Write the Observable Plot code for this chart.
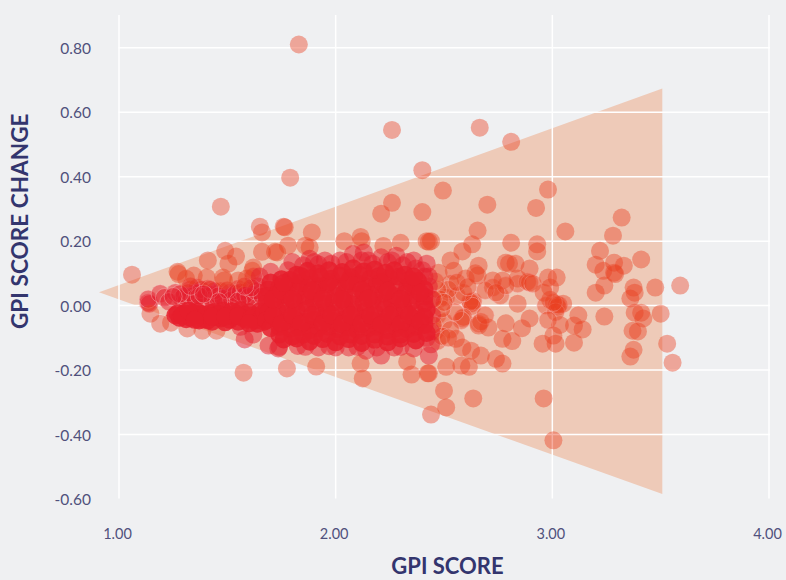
<!DOCTYPE html>
<html>
<head>
<meta charset="utf-8">
<script src="https://cdn.jsdelivr.net/npm/d3@7"></script>
<script src="https://cdn.jsdelivr.net/npm/@observablehq/plot@0.6"></script>
<style>
html,body{margin:0;padding:0;background:#EFF0F2;}
svg{display:block;background:#EFF0F2;}
</style>
</head>
<body>
<div id="chart"></div>
<script>
const wedgeScore = [0.91, 3.51];
const wedgeUpper = [0.04, 0.672];
const wedgeLower = [0.04, -0.586];
const xTicks = [1, 2, 3, 4];
const yTicks = [-0.6, -0.4, -0.2, 0, 0.2, 0.4, 0.6, 0.8];
const xTitle = "GPI SCORE";
const yTitle = "GPI SCORE CHANGE";

// [GPI score, GPI score change]
const scattered = [
[1.06,.096],[1.83,.81],[2.26,.545],[2.665,.552],[2.81,.508],[2.40,.42],[1.79,.397],[2.495,.357],[2.98,.36],[1.47,.307],
[2.70,.313],[2.26,.319],[2.21,.285],[2.40,.29],[2.925,.303],[3.32,.273],[3.06,.23],[3.28,.217],[2.655,.233],[1.65,.245],
[1.66,.227],[1.76,.245],[1.765,.243],[1.89,.227],[2.81,.195],[2.93,.19],[2.93,.168],[2.63,.19],[2.585,.168],[2.42,.2],
[2.43,.198],[2.44,.2],[2.30,.195],[2.04,.2],[2.115,.213],[2.12,.2],[2.22,.185],[1.72,.167],[1.78,.186],[1.86,.186],
[1.88,.18],[1.49,.17],[1.54,.152],[1.505,.13],[1.41,.14],[1.66,.167],[3.22,.17],[3.2,.127],[3.235,.108],[3.285,.133],
[3.33,.124],[3.285,.102],[3.29,.098],[3.41,.143],[3.24,.062],[3.2,.04],[3.375,.056],[3.36,.022],[3.475,.056],[3.59,.062],
[3.38,.04],[3.38,-.022],[3.41,-.022],[3.42,-.04],[3.50,-.025],[3.37,-.078],[3.395,-.08],[3.375,-.137],[3.36,-.158],[3.53,-.118],
[3.555,-.177],[3.24,-.034],[2.53,.14],[2.545,.108],[2.475,.102],[2.66,.124],[2.645,.1],[2.785,.133],[2.80,.13],[2.83,.13],
[2.895,.115],[2.60,.084],[2.655,.093],[2.84,.084],[2.77,.078],[2.725,.078],[3.12,-.03],[3.10,-.062],[3.14,-.074],[3.10,-.115],
[3.05,.006],[2.98,.087],[3.02,.087],[2.99,.056],[2.96,.04],[2.99,.018],[3.015,-.118],[2.955,-.118],[3.005,-.093],[3.035,-.06],
[2.895,-.04],[2.86,-.07],[2.815,-.11],[2.77,-.103],[2.785,-.055],[2.84,.006],[2.51,-.19],[2.425,-.21],[2.50,-.264],[2.51,-.316],
[2.44,-.338],[2.635,-.288],[2.96,-.288],[3.005,-.418],[1.575,-.208],[1.775,-.195],[1.91,-.189],[2.125,-.226],[2.115,-.18],[2.35,-.214],
[2.43,-.21],[2.33,-.174],[2.67,-.155],[2.74,-.165],[2.77,-.18],[2.58,-.186],[2.615,-.19],[2.705,-.068],[2.66,-.062],
[2.555,-.103],[2.585,-.13],[2.625,-.14],[1.27,.105],[1.275,.098],[1.345,.093],[1.405,.087],[1.31,.083],[1.48,.087],[1.485,.078],
[1.55,.078],[1.59,.084],[1.62,.118],[1.615,.108],[1.73,.165],[1.19,-.056],[1.145,-.025],[1.24,-.053],[1.315,-.071],[1.385,-.078],[1.45,-.078]
];

const ringedBand = [
[1.135,.009],[1.14,.006],[1.135,.02],[1.19,.037],[1.21,.025],[1.26,.04],[1.33,.05],[1.36,.056],[1.37,.04],[1.42,.034],
[1.45,.028],[1.5,.025],[1.55,.052],[1.59,.046],[1.62,.031],[1.29,.022],[1.34,.03],[1.39,.02],[1.47,.045],[1.53,.03],
[1.57,.022],[1.64,.06],[1.62,.09],[1.65,.04],[1.31,.016],[1.41,.052],[1.49,.016],[1.6,.012],[1.23,.012],[1.35,.012],
[1.3,.03],[1.32,.04],[1.35,.022],[1.38,.05],[1.4,.03],[1.43,.018],[1.44,.046],[1.46,.03],[1.48,.022],[1.51,.04],
[1.52,.018],[1.54,.038],[1.56,.042],[1.58,.032],[1.6,.028],[1.63,.046],[1.66,.03],[1.28,.036],[1.25,.028],[1.37,.03],
[1.42,.05],[1.5,.048],[1.55,.014],[1.61,.055],[1.33,.06],[1.58,.06],[1.46,.012],[1.39,.036]
];

const ringedRight = [
[2.63,.01],[2.625,.006],[2.635,.014],[2.62,.012],[2.63,-.002],[2.585,-.04],[2.59,-.036],[2.58,-.046],[2.66,-.056],[2.67,-.05],
[2.53,.068],[2.51,.025],[2.56,.031],[2.59,.04],[2.725,.056],[2.76,.031],[2.84,.068],[2.885,.074],[2.895,.071],[2.91,.068],
[2.785,.062],[2.69,.047],[2.74,.04],[2.52,.05],[2.56,.072],[2.61,.058],[2.47,-.03],[2.46,-.08],[2.48,.02],[2.5,-.05],
[2.53,-.075],[2.55,-.02],[2.69,-.03],[2.97,0],[3.02,.004],[3.025,-.004],[3.03,.002],[3.015,-.02],[2.98,-.045],[3.005,.01],
[2.47,.05],[2.46,.075],[2.49,-.01],[2.47,-.11],[2.49,-.095],[2.52,-.1],[2.5,.01],[2.45,.02],[2.45,-.06]
];

const coreLeft = [
[1.3,-.024],[1.33,-.038],[1.36,-.018],[1.39,-.042],[1.42,-.022],[1.45,-.036],[1.48,-.016],[1.51,-.044],[1.54,-.024],[1.57,-.038],[1.6,-.02],[1.63,-.046],
[1.31,-.042],[1.35,-.03],[1.38,-.026],[1.41,-.046],[1.44,-.02],[1.47,-.04],[1.5,-.028],[1.53,-.034],[1.56,-.014],[1.59,-.044],[1.62,-.03],[1.65,-.018],
[1.26,-.03],[1.28,-.038],[1.34,-.022],[1.37,-.046],[1.4,-.03],[1.46,-.026],[1.52,-.018],[1.58,-.03],[1.64,-.034],[1.67,-.05],[1.55,-.05],[1.49,-.052],[1.43,-.05],
[1.27,-.024],[1.29,-.03],[1.32,-.016],[1.35,-.044],[1.43,-.034],[1.49,-.034],[1.55,-.032],[1.61,-.04],[1.66,-.036],[1.64,-.056],[1.6,-.055],[1.67,-.02]
];

const coreMain = [
[1.70,.072],[1.75,.082],[1.79,.08],[1.84,.092],[1.88,.085],[1.93,.09],[1.98,.083],[2.02,.093],[2.07,.088],[2.11,.096],[2.16,.084],[2.2,.092],[2.25,.086],[2.29,.09],[2.34,.082],[2.38,.076],
[1.69,.05],[1.74,.058],[1.78,.062],[1.83,.055],[1.87,.064],[1.92,.06],[1.96,.066],[2.01,.057],[2.05,.065],[2.1,.069],[2.14,.06],[2.19,.066],[2.23,.058],[2.28,.063],[2.33,.056],[2.37,.06],[2.41,.05],
[1.68,.03],[1.73,.036],[1.77,.032],[1.82,.038],[1.86,.03],[1.91,.036],[1.95,.04],[2.0,.032],[2.04,.038],[2.09,.034],[2.13,.04],[2.18,.032],[2.22,.037],[2.27,.03],[2.32,.036],[2.36,.032],[2.41,.028],
[1.68,.006],[1.72,.012],[1.77,.004],[1.81,.01],[1.86,.008],[1.9,.014],[1.95,.006],[1.99,.01],[2.04,.012],[2.08,.004],[2.13,.01],[2.17,.014],[2.22,.006],[2.26,.01],[2.31,.004],[2.35,.012],[2.41,.006],
[1.69,-.02],[1.73,-.014],[1.78,-.022],[1.82,-.016],[1.87,-.012],[1.91,-.02],[1.96,-.016],[2.0,-.024],[2.05,-.014],[2.09,-.02],[2.14,-.016],[2.18,-.022],[2.23,-.012],[2.27,-.02],[2.32,-.016],[2.37,-.022],[2.42,-.014],
[1.68,-.046],[1.72,-.04],[1.77,-.048],[1.81,-.042],[1.86,-.05],[1.9,-.044],[1.95,-.038],[1.99,-.048],[2.04,-.042],[2.08,-.05],[2.13,-.04],[2.17,-.046],[2.22,-.05],[2.26,-.042],[2.31,-.048],[2.36,-.04],[2.41,-.036],
[1.7,-.07],[1.74,-.066],[1.79,-.072],[1.83,-.068],[1.88,-.076],[1.92,-.07],[1.97,-.066],[2.01,-.074],[2.06,-.068],[2.1,-.076],[2.15,-.07],[2.19,-.066],[2.24,-.076],[2.28,-.07],[2.33,-.074],[2.37,-.066],[2.41,-.06],
[1.74,-.09],[1.8,-.096],[1.85,-.09],[1.9,-.094],[1.96,-.088],[2.02,-.096],[2.07,-.09],[2.12,-.094],[2.18,-.09],[2.24,-.096],[2.3,-.09],[2.36,-.088],
[1.71,-.03],[1.75,-.056],[1.8,-.03],[1.84,-.056],[1.89,-.03],[1.94,-.056],[1.98,-.03],[2.03,-.058],[2.07,-.03],[2.12,-.056],[2.16,-.03],[2.21,-.06],[2.25,-.03],[2.3,-.058],[2.34,-.03],[2.39,-.05],
[1.71,.02],[1.75,.046],[1.8,.02],[1.84,.072],[1.89,.046],[1.94,.02],[1.97,.074],[2.03,.02],[2.06,.076],[2.12,.048],[2.15,.022],[2.21,.074],[2.24,.046],[2.3,.02],[2.35,.07],[2.39,.04],
[1.76,.07],[1.82,.096],[1.87,.108],[1.92,.1],[1.97,.11],[2.03,.104],[2.08,.116],[2.13,.106],[2.18,.112],[2.23,.102],[2.27,.11],[2.32,.096],[2.36,.09],
[1.76,-.105],[1.82,-.102],[1.88,-.112],[1.94,-.104],[2.0,-.114],[2.06,-.104],[2.12,-.116],[2.18,-.106],[2.24,-.114],[2.3,-.102],[2.37,-.108],[2.42,-.085]
];

const coreEdge = [
[1.58,-.105],[1.56,-.066],[1.62,-.09],[1.69,-.124],[1.735,-.133],[1.74,-.128],[1.825,-.125],[1.92,-.13],[2.0,-.13],[2.06,-.13],
[2.14,-.14],[2.21,-.155],[2.27,-.13],[2.36,-.133],[2.43,-.155],[2.44,-.12],[2.42,-.1],[1.86,-.128],[1.97,-.126],[2.1,-.128],
[2.19,-.13],[2.3,-.128],[1.65,.09],[1.7,.105],[1.78,.11],[1.85,.125],[1.92,.128],[1.98,.13],[2.05,.135],[2.12,.14],
[2.17,.13],[2.24,.135],[2.31,.125],[2.37,.115],[2.41,.09],[1.95,.14],[2.08,.16],[2.13,.165],[2.21,.15],[2.36,.14],
[1.8,.135],[1.88,.145],[2.28,.155],[2.33,.135],[2.42,.13],[1.9,.135],[2.02,.14],[2.15,.14],[2.26,.14],[2.4,.11],
[2.43,.06],[2.44,.02],[2.445,-.03],[2.44,-.08],[2.43,.09]
];

const dotOrange = "#E93E1E";
const coreRed = "#E61E2D";
const navy = "#33356E";
const tickInk = "#50507C";
const fmt = d => d3.format(".2f")(d).replace("\u2212", "-");
const tickFont = {fill: tickInk};
const titleFont = {fontSize: 22, fontWeight: 700, fill: navy, fontFamily: "Lato"};

const chart = Plot.plot({
  width: 786,
  height: 580,
  marginLeft: 118.5,
  marginRight: 17.5,
  marginTop: 15,
  marginBottom: 81.5,
  style: {background: "#EFF0F2", fontFamily: "Lato", overflow: "visible"},
  x: {domain: [1, 4]},
  y: {domain: [-0.6, 0.9]},
  marks: [
    Plot.areaY(wedgeScore, {x: d => d, y1: (d, i) => wedgeLower[i], y2: (d, i) => wedgeUpper[i], fill: "#EECAB8"}),
    Plot.ruleY(yTicks.filter(d => d > -0.6), {x1: 1, x2: 4.007, stroke: "#fff", strokeWidth: 1.5}),
    Plot.ruleX(xTicks, {stroke: "#fff", strokeWidth: 1.5}),
    Plot.dot(ringedBand, {x: d => d[0], y: d => d[1], r: 9, fill: coreRed, fillOpacity: 0.5, stroke: "#F7C2C2", strokeOpacity: 0.5, strokeWidth: 0.8}),
    Plot.dot(ringedRight, {x: d => d[0], y: d => d[1], r: 9, fill: dotOrange, fillOpacity: 0.42, stroke: "#F7C2C2", strokeOpacity: 0.5, strokeWidth: 0.8}),
    Plot.dot(scattered, {x: d => d[0], y: d => d[1], r: 9, fill: dotOrange, fillOpacity: 0.42}),
    Plot.dot(coreEdge, {x: d => d[0], y: d => d[1], r: 9, fill: coreRed, fillOpacity: 0.5}),
    Plot.dot(coreLeft, {x: d => d[0], y: d => d[1], r: 9, fill: coreRed, fillOpacity: 0.85}),
    Plot.dot(coreMain, {x: d => d[0], y: d => d[1], r: 9, fill: coreRed, fillOpacity: 0.85}),
    Plot.axisX(xTicks, {anchor: "bottom", tickSize: 0, tickPadding: 30, tickFormat: fmt, label: null, dx: -1.5, fontSize: 14.5, ...tickFont}),
    Plot.axisY(yTicks, {anchor: "left", tickSize: 0, tickPadding: 28, tickFormat: fmt, label: null, dy: 1, fontSize: 15.5, ...tickFont}),
    Plot.text([xTitle], {frameAnchor: "bottom", dx: 3.5, dy: 75, ...titleFont}),
    Plot.text([yTitle], {frameAnchor: "left", textAnchor: "middle", rotate: -90, dx: -98, dy: -36, fontSize: 22.6, fontWeight: 700, fill: navy, fontFamily: "Lato"})
  ]
});
document.getElementById("chart").appendChild(chart);
</script>
</body>
</html>
